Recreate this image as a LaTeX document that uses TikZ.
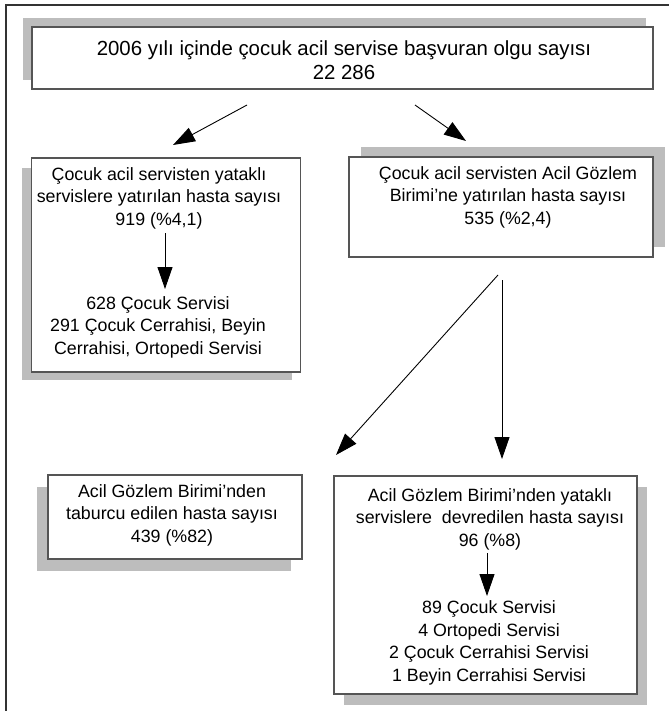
\documentclass[tikz,border=0pt]{standalone}
\usepackage{fontspec}
\setmainfont{Liberation Sans}
\usetikzlibrary{arrows.meta,shadows}
\definecolor{boxline}{HTML}{555555}
\definecolor{shadowgray}{HTML}{BDBDBD}
\begin{document}
\begin{tikzpicture}[x=1pt,y=-1pt,
  box/.style={draw=boxline, line width=1.3pt, fill=white, inner sep=0pt},
  txt/.style={align=center, font=\fontsize{17.8}{22.5}\selectfont, inner sep=0pt},
  bigtxt/.style={align=center, font=\fontsize{20.4}{24}\selectfont, inner sep=0pt},
  arr/.style={line width=0.9pt, -{Triangle[length=22pt,width=15pt]}},
  sh/.style={fill=shadowgray, draw=none}
]
\useasboundingbox (0,0) rectangle (669,711);
% outer frame (cropped)
\draw[line width=1.3pt, black!80] (6,711) -- (6,5) -- (669,5);

% shadows
\fill[sh] (23,18) rectangle (646,80);
\fill[sh] (22,168) rectangle (292,380);
\fill[sh] (361,147) rectangle (665,247);
\fill[sh] (37,487) rectangle (291,571);
\fill[sh] (344,487) rectangle (647,705);

% boxes
\node[box, minimum width=621pt, minimum height=62pt] (top) at (342.5,58) {};
\node[box, minimum width=269pt, minimum height=214pt] (boxA) at (166,265) {};
\node[box, minimum width=304pt, minimum height=100pt] (boxB) at (501,207) {};
\node[box, minimum width=254pt, minimum height=84pt] (boxC) at (175,517) {};
\node[box, minimum width=303pt, minimum height=218pt] (boxD) at (485.5,585) {};

% texts
\node[bigtxt] (ttop) at (344,60) {2006 yılı içinde çocuk acil servise başvuran olgu sayısı\\22 286};
\node[txt] (tA1) at (159,198) {Çocuk acil servisten yataklı\\servislere yatırılan hasta sayısı\\919 (\%4,1)};
\node[txt] (tA2) at (158,327) {628 Çocuk Servisi\\291 Çocuk Cerrahisi, Beyin\\Cerrahisi, Ortopedi Servisi};
\node[txt] (tB) at (508,197) {Çocuk acil servisten Acil Gözlem\\Birimi’ne yatırılan hasta sayısı\\535 (\%2,4)};
\node[txt] (tC) at (172,515) {Acil Gözlem Birimi’nden\\taburcu edilen hasta sayısı\\439 (\%82)};
\node[txt] (tD1) at (490,519) {Acil Gözlem Birimi’nden yataklı\\servislere~ devredilen hasta sayısı\\96 (\%8)};
\node[txt] (tD2) at (489,643) {89 Çocuk Servisi\\4 Ortopedi Servisi\\2 Çocuk Cerrahisi Servisi\\1 Beyin Cerrahisi Servisi};

% connector end points
\coordinate (p1s) at (247,105); \coordinate (p1e) at (173,145);
\coordinate (p2s) at (415,105); \coordinate (p2e) at (466,141);
\coordinate (p3s) at (165,233); \coordinate (p3e) at (165,289);
\coordinate (p4s) at (498,275); \coordinate (p4e) at (336,455);
\coordinate (p5s) at (502,280); \coordinate (p5e) at (502,459);
\coordinate (p6s) at (487,553); \coordinate (p6e) at (487,596);

\draw[arr] (p1s) -- (p1e);
\draw[arr] (p2s) -- (p2e);
\draw[arr] (p3s) -- (p3e);
\draw[arr] (p4s) -- (p4e);
\draw[arr] (p5s) -- (p5e);
\draw[arr] (p6s) -- (p6e);
\end{tikzpicture}
\end{document}
